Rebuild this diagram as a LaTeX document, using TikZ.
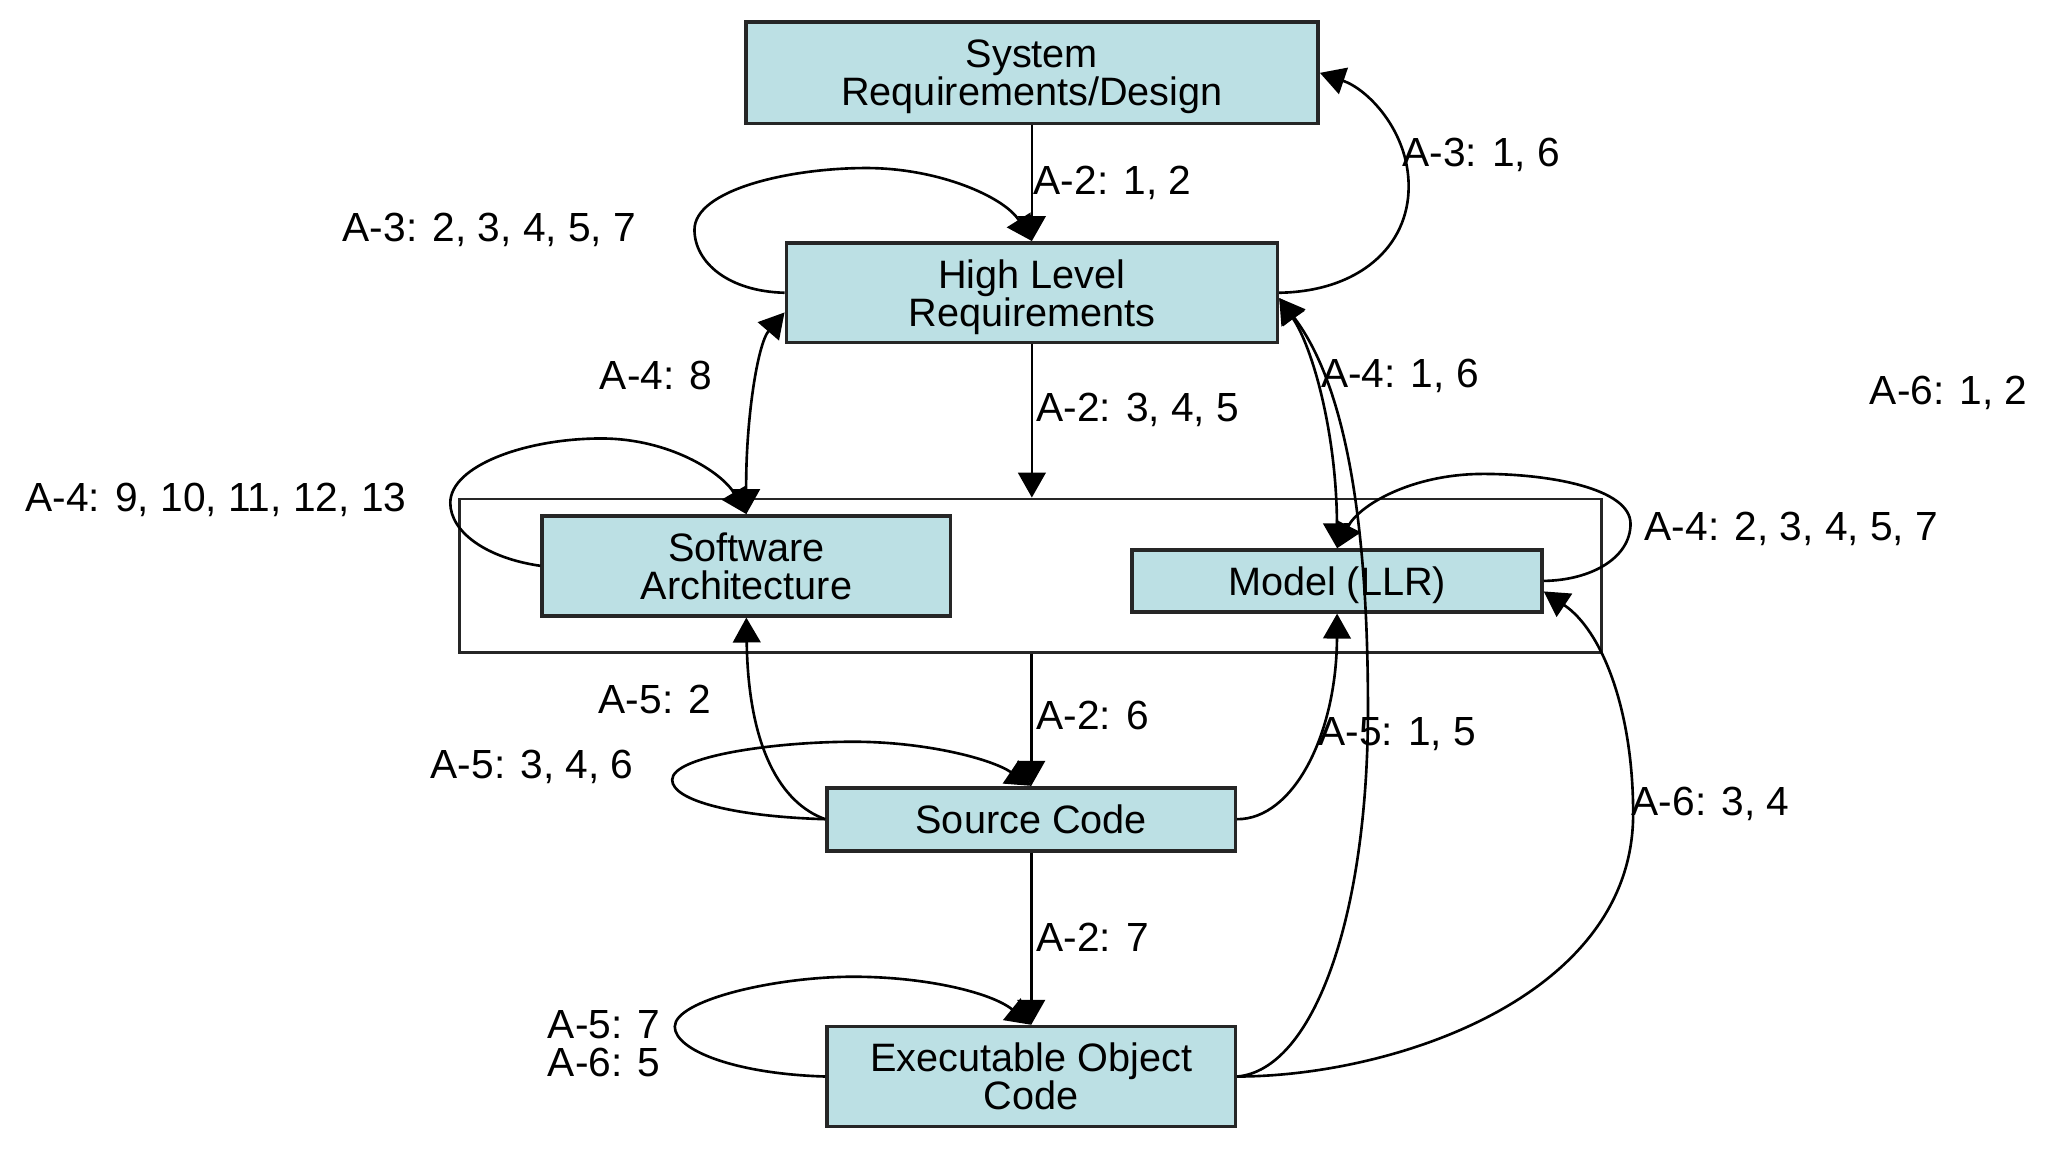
\documentclass[tikz,border=0pt]{standalone}
\usepackage{fontspec}
\setmainfont{Liberation Sans}
\usetikzlibrary{arrows.meta}
\definecolor{boxfill}{RGB}{188,224,228}
\newcommand{\lblfont}{\fontsize{15.5}{14.5}\selectfont}
\newcommand{\boxfont}{\fontsize{15.1}{14.5}\selectfont}
\tikzset{
  box/.style={draw=black!85, line width=1.4pt, fill=boxfill, inner sep=0pt, align=center, font=\boxfont, text depth=0pt},
  frame/.style={draw=black!85, line width=1pt, inner sep=0pt},
  lbl/.style={inner sep=0pt, font=\lblfont, align=left},
  arr/.style={line width=1pt, -{Triangle[length=9.5pt,width=10.5pt]}},
  darr/.style={line width=1pt, {Triangle[length=9.5pt,width=10.5pt]}-{Triangle[length=9.5pt,width=10.5pt]}}
}
\begin{document}
\begin{tikzpicture}[x=0.5pt,y=-0.5pt]
\useasboundingbox (0,0) rectangle (1560,877);
% container
\node[frame, minimum width=435pt, minimum height=58.5pt] (cont) at (785,438.5) {};
% boxes
\node[box, minimum width=218pt, minimum height=38.5pt] (sys) at (786,55.5) {System\\Requirements/Design};
\node[box, minimum width=187pt, minimum height=38pt] (hlr) at (786,223) {High Level\\Requirements};
\node[box, minimum width=155.5pt, minimum height=38pt] (sa) at (568.5,431) {Software\\Architecture};
\node[box, minimum width=156pt, minimum height=23.5pt] (model) at (1018.5,442.5) {Model (LLR)};
\node[box, minimum width=155.5pt, minimum height=24pt] (sc) at (785.5,624) {Source Code};
\node[box, minimum width=155.5pt, minimum height=38pt] (eoc) at (785.5,820) {Executable Object\\Code};
% vertical flow
\draw[arr] (sys.south) -- (hlr.north);
\draw[arr] (hlr.south) -- (hlr.south |- cont.north);
\draw[arr] (sc.north |- cont.south) -- (sc.north);
\draw[arr] (sc.south) -- (eoc.north);
% self loops
\draw[arr] (hlr.west) .. controls (555,222) and (529,200) .. (529,175)
  .. controls (529,145) and (600,128) .. (660,128)
  .. controls (715,128) and (765,150) .. (hlr.north);
\draw[arr] (sa.west) .. controls (370,425) and (343,405) .. (343,383)
  .. controls (343,355) and (400,334) .. (458,334)
  .. controls (510,334) and (550,360) .. (sa.north);
\draw[arr] (model.east) .. controls (1212,442) and (1242,425) .. (1242,399)
  .. controls (1242,372) and (1180,361) .. (1130,361)
  .. controls (1075,361) and (1035,385) .. (model.north);
\draw[arr] (sc.west) .. controls (560,622) and (512,610) .. (512,594)
  .. controls (512,576) and (590,565) .. (650,565)
  .. controls (705,565) and (755,578) .. (sc.north);
\draw[arr] (eoc.west) .. controls (560,818) and (514,800) .. (514,782)
  .. controls (514,762) and (590,744) .. (650,744)
  .. controls (705,744) and (755,756) .. (eoc.north);
% other connectors
\draw[arr] (hlr.east) .. controls (1035,222) and (1073,188) .. (1073,142)
  .. controls (1073,100) and (1042,68) .. (sys.east);
\draw[darr] ([yshift=-7.5pt]hlr.west) .. controls (577,262) and (568,320) .. (sa.north);
\draw[darr] ([yshift=-2pt]hlr.east) .. controls (1000,265) and (1018,330) .. (model.north);
\draw[arr] (eoc.east) .. controls (1000,815) and (1042,700) .. (1042,540)
  .. controls (1042,420) and (1030,300) .. ([yshift=-2pt]hlr.east);
\draw[arr] (sc.west) .. controls (595,612) and (570,570) .. (sa.south);
\draw[arr] (sc.east) .. controls (985,624) and (1018,560) .. (model.south);
\draw[arr] (eoc.east) .. controls (1060,820) and (1244,760) .. (1244,620)
  .. controls (1244,540) and (1220,480) .. ([yshift=-4pt]model.east);
% labels
\node[lbl, anchor=west] (l1) at (787,139.5) {A-2: 1, 2};
\node[lbl, anchor=east] (l2) at (485,175) {A-3: 2, 3, 4, 5, 7};
\node[lbl, anchor=west] (l3) at (1068,118) {A-3: 1, 6};
\node[lbl, anchor=east] (l4) at (543,286) {A-4: 8};
\node[lbl, anchor=west] (l5) at (789,312) {A-2: 3, 4, 5};
\node[lbl, anchor=west] (l6) at (1006,286) {A-4: 1, 6};
\node[lbl, anchor=west] (l7) at (1424,299) {A-6: 1, 2};
\node[lbl, anchor=west] (l8) at (19,380.5) {A-4: 9, 10, 11, 12, 13};
\node[lbl, anchor=west] (l9) at (1252.5,403) {A-4: 2, 3, 4, 5, 7};
\node[lbl, anchor=east] (l10) at (542,533) {A-5: 2};
\node[lbl, anchor=west] (l11) at (789,545) {A-2: 6};
\node[lbl, anchor=east] (l12) at (483,584) {A-5: 3, 4, 6};
\node[lbl, anchor=west] (l13) at (1004,559) {A-5: 1, 5};
\node[lbl, anchor=west] (l14) at (1242.5,612) {A-6: 3, 4};
\node[lbl, anchor=west] (l15) at (789,714) {A-2: 7};
\node[lbl, anchor=west] (l16) at (417,795) {A-5: 7\\A-6: 5};
\end{tikzpicture}
\end{document}
